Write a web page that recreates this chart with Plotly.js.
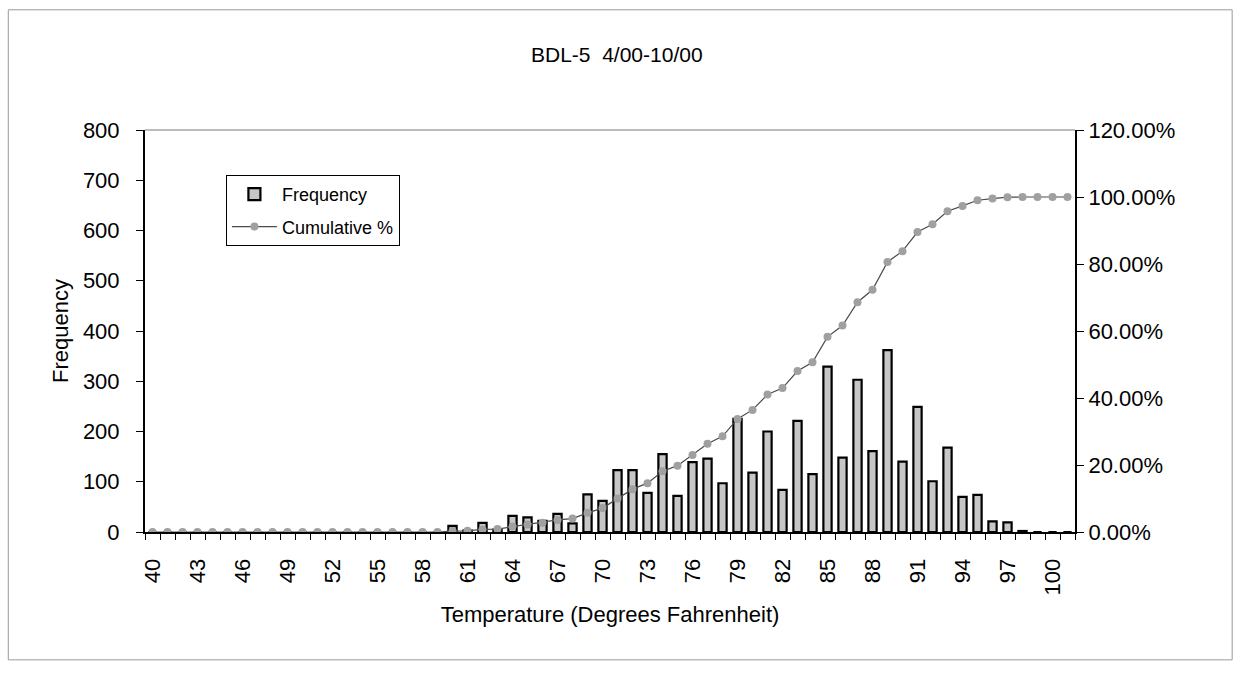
<!DOCTYPE html>
<html>
<head>
<meta charset="utf-8">
<script src="https://cdn.plot.ly/plotly-3.0.1.min.js"></script>
<style>
  html, body { margin: 0; padding: 0; background: #ffffff; }
  #chart { width: 1241px; height: 677px; }
</style>
</head>
<body>
<div id="chart"></div>
<script>
// Temperature bins (degrees F), last bin collects everything above 100
const categories = [
  '40','41','42','43','44','45','46','47','48','49',
  '50','51','52','53','54','55','56','57','58','59',
  '60','61','62','63','64','65','66','67','68','69',
  '70','71','72','73','74','75','76','77','78','79',
  '80','81','82','83','84','85','86','87','88','89',
  '90','91','92','93','94','95','96','97','98','99',
  '100','More'
];

// Hourly readings falling in each bin
const frequency = [
  0, 0, 0, 0, 0, 0, 0, 0, 0, 0,
  0, 0, 0, 0, 0, 0, 0, 0, 0, 0,
  12, 3, 18, 5, 32, 29, 22, 36, 17, 75,
  62, 123, 123, 78, 155, 72, 139, 146, 97, 225,
  118, 200, 84, 221, 115, 329, 148, 303, 161, 362,
  140, 249, 101, 168, 70, 74, 21, 19, 2, 0,
  0, 0
];

// Running share of all readings, in percent
const cumulativePct = [
  0, 0, 0, 0, 0, 0, 0, 0, 0, 0,
  0, 0, 0, 0, 0, 0, 0, 0, 0, 0,
  0.28, 0.34, 0.76, 0.87, 1.61, 2.27, 2.78, 3.61, 4.00, 5.72,
  7.14, 9.97, 12.79, 14.58, 18.14, 19.80, 22.99, 26.34, 28.57, 33.74,
  36.45, 41.04, 42.97, 48.05, 50.69, 58.25, 61.64, 68.60, 72.30, 80.62,
  83.83, 89.55, 91.87, 95.73, 97.34, 99.04, 99.52, 99.95, 100, 100,
  100, 100
];

// Every third bin gets a label
const labelEvery = 3;

const FONT = 'Liberation Sans, Arial, sans-serif';
const idx = categories.map((c, i) => i);
const tickIdx = idx.filter(i => i % labelEvery === 0 && i < categories.length - 1);

const traces = [
  {
    type: 'bar',
    name: 'Frequency',
    legendgroup: 'freq',
    x: idx,
    y: frequency,
    width: 0.55,
    marker: { color: '#c6c6c6', line: { color: '#000000', width: 2.2 } },
    yaxis: 'y'
  },
  {
    type: 'scatter',
    mode: 'lines+markers',
    name: 'Cumulative %',
    legendgroup: 'cum',
    x: idx,
    y: cumulativePct,
    yaxis: 'y2',
    line: { color: '#4a4a4a', width: 1.2 },
    marker: { color: '#a0a0a0', size: 8, line: { width: 0 } }
  }
];

const layout = {
  width: 1241,
  height: 677,
  paper_bgcolor: '#ffffff',
  plot_bgcolor: '#ffffff',
  margin: { l: 145, r: 166, t: 130, b: 145 },
  showlegend: true,
  font: { family: FONT, color: '#000000', size: 20 },
  title: {
    text: 'BDL-5\u00a0 4/00-10/00',
    font: { family: FONT, size: 21, color: '#000000' },
    xref: 'container', x: 0.497, xanchor: 'center',
    yref: 'container', y: 0.919, yanchor: 'middle'
  },
  xaxis: {
    type: 'linear',
    range: [-0.5, categories.length - 0.5],
    tickmode: 'array',
    tickvals: tickIdx,
    ticktext: tickIdx.map(i => categories[i]),
    tickangle: -90,
    ticks: '',
    ticklabelstandoff: 16,
    tickfont: { family: FONT, size: 22 },
    showgrid: false,
    zeroline: false,
    showline: true,
    linecolor: '#000000',
    linewidth: 2,
    minor: {
      tickmode: 'linear', tick0: -0.5, dtick: 1,
      ticks: 'outside', ticklen: 6, tickcolor: '#000000', tickwidth: 1,
      showgrid: false
    },
    title: {
      text: 'Temperature (Degrees Fahrenheit)',
      font: { family: FONT, size: 22 },
      standoff: 12
    }
  },
  yaxis: {
    range: [0, 800],
    dtick: 100,
    ticks: 'outside',
    ticklen: 7,
    tickcolor: '#000000',
    ticklabelstandoff: 12,
    tickfont: { family: FONT, size: 22 },
    showgrid: false,
    zeroline: false,
    showline: true,
    linecolor: '#000000',
    linewidth: 2,
    title: {
      text: 'Frequency',
      font: { family: FONT, size: 22 },
      standoff: 8
    }
  },
  yaxis2: {
    overlaying: 'y',
    side: 'right',
    range: [0, 120],
    dtick: 20,
    tickformat: '.2f',
    ticksuffix: '%',
    ticks: 'outside',
    ticklen: 7,
    tickcolor: '#000000',
    ticklabelstandoff: 0,
    tickfont: { family: FONT, size: 22 },
    showgrid: false,
    zeroline: false,
    showline: true,
    linecolor: '#000000',
    linewidth: 2
  },
  legend: {
    x: 0.087, xanchor: 'left',
    y: 0.888, yanchor: 'top',
    bgcolor: '#ffffff',
    bordercolor: '#000000',
    borderwidth: 1,
    font: { family: FONT, size: 18 },
    traceorder: 'grouped',
    tracegroupgap: 6,
    itemwidth: 45
  },
  shapes: [
    // top edge of the plot area
    { type: 'line', xref: 'paper', yref: 'paper', x0: 0, x1: 1, y0: 1, y1: 1,
      line: { color: '#7a7a7a', width: 1 } },
    // outer chart frame
    { type: 'rect', xref: 'paper', yref: 'paper',
      x0: -0.147, x1: 1.169, y0: -0.318, y1: 1.299,
      line: { color: '#9a9a9a', width: 1 } }
  ]
};

Plotly.newPlot('chart', traces, layout, { displayModeBar: false, staticPlot: true });
</script>
</body>
</html>
